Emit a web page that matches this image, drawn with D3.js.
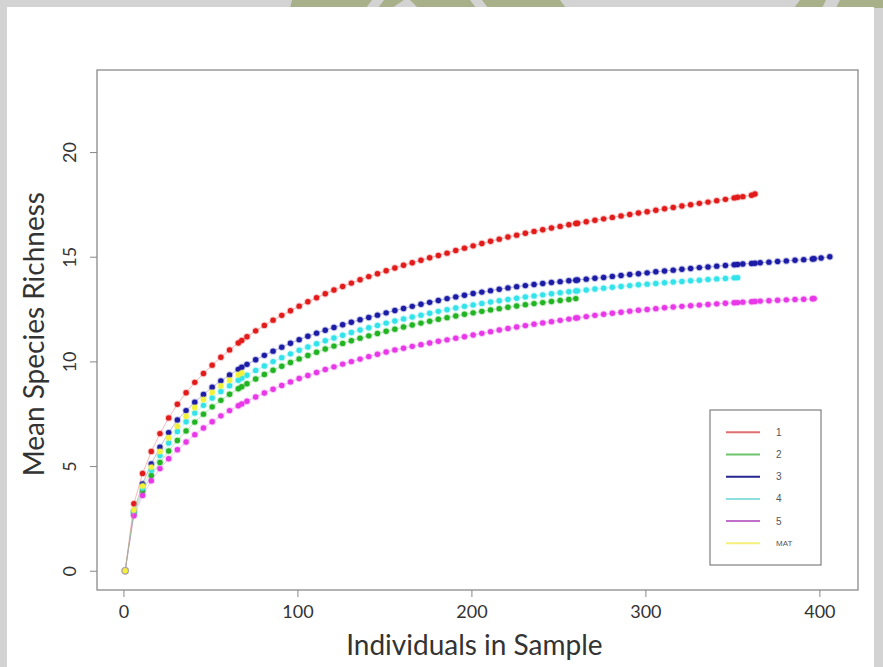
<!DOCTYPE html>
<html>
<head>
<meta charset="utf-8">
<script src="https://cdn.jsdelivr.net/npm/d3@7"></script>
<style>
    body { margin: 0; background: #d3d3d3; }
    .axis text { font-family: Lato, "Open Sans", sans-serif; fill: #333; }
</style>
</head>
<body>
<div id="chart"></div>
<script>
// shared sample sizes (every 5 individuals plus each sample's total)
const sampleSizes = [1, 6, 11, 16, 21, 26, 31, 36, 41, 46, 51, 56, 61, 66, 68, 71, 76, 81, 86, 91,
    96, 101, 106, 111, 116, 121, 126, 131, 136, 141, 146, 151, 156, 161, 166, 171, 176, 181, 186, 191,
    196, 201, 206, 211, 216, 221, 226, 231, 236, 241, 246, 251, 256, 260, 261, 266, 271, 276, 281, 286,
    291, 296, 301, 306, 311, 316, 321, 326, 331, 336, 341, 346, 351, 353, 356, 361, 363, 366, 371, 376,
    381, 386, 391, 396, 397, 401, 406];

const richness1 = [0, 3.2, 4.65, 5.7, 6.55, 7.3, 7.95, 8.5, 9.0, 9.42, 9.82, 10.2, 10.55, 10.88, 11.0,
    11.18, 11.46, 11.72, 11.97, 12.2, 12.42, 12.64, 12.85, 13.04, 13.23, 13.41, 13.58, 13.74, 13.9, 14.05,
    14.19, 14.33, 14.46, 14.59, 14.71, 14.83, 14.95, 15.06, 15.17, 15.3, 15.41, 15.52, 15.63, 15.74, 15.84,
    15.94, 16.03, 16.12, 16.21, 16.29, 16.37, 16.45, 16.53, 16.59, 16.6, 16.67, 16.74, 16.81, 16.88, 16.95,
    17.02, 17.09, 17.15, 17.22, 17.29, 17.35, 17.42, 17.48, 17.55, 17.61, 17.68, 17.74, 17.81, 17.84, 17.87,
    17.94, 18.0];

const richness2 = [0, 2.72, 3.8, 4.55, 5.17, 5.72, 6.22, 6.68, 7.1, 7.48, 7.83, 8.14, 8.43, 8.69, 8.79,
    8.93, 9.16, 9.38, 9.58, 9.77, 9.95, 10.12, 10.28, 10.44, 10.59, 10.73, 10.86, 10.99, 11.11, 11.22,
    11.33, 11.44, 11.54, 11.64, 11.74, 11.83, 11.92, 12.01, 12.09, 12.17, 12.25, 12.32, 12.39, 12.46, 12.52,
    12.59, 12.65, 12.71, 12.76, 12.81, 12.86, 12.91, 12.96, 13.0];

const richness3 = [0, 2.85, 4.15, 5.1, 5.9, 6.6, 7.2, 7.65, 8.05, 8.42, 8.77, 9.07, 9.35, 9.62, 9.72,
    9.86, 10.08, 10.29, 10.49, 10.68, 10.87, 11.04, 11.2, 11.35, 11.49, 11.62, 11.75, 11.87, 11.99, 12.1,
    12.21, 12.32, 12.43, 12.53, 12.63, 12.73, 12.82, 12.91, 13.0, 13.08, 13.16, 13.24, 13.31, 13.38, 13.45,
    13.51, 13.57, 13.62, 13.67, 13.72, 13.77, 13.81, 13.85, 13.88, 13.89, 13.93, 13.97, 14.01, 14.06, 14.1,
    14.15, 14.19, 14.23, 14.28, 14.32, 14.36, 14.4, 14.44, 14.48, 14.51, 14.55, 14.58, 14.62, 14.63, 14.65,
    14.68, 14.69, 14.71, 14.74, 14.77, 14.8, 14.83, 14.86, 14.89, 14.9, 14.94, 15.0];

const richness4 = [0, 2.8, 3.95, 4.8, 5.5, 6.1, 6.65, 7.12, 7.53, 7.9, 8.25, 8.56, 8.84, 9.1, 9.2,
    9.34, 9.57, 9.78, 9.99, 10.18, 10.36, 10.53, 10.69, 10.84, 10.99, 11.12, 11.25, 11.38, 11.5, 11.61,
    11.72, 11.83, 11.93, 12.03, 12.12, 12.21, 12.3, 12.39, 12.47, 12.55, 12.63, 12.7, 12.77, 12.84, 12.9,
    12.96, 13.02, 13.08, 13.13, 13.18, 13.23, 13.28, 13.33, 13.36, 13.37, 13.41, 13.46, 13.5, 13.54, 13.58,
    13.62, 13.66, 13.69, 13.72, 13.76, 13.79, 13.82, 13.85, 13.88, 13.91, 13.94, 13.96, 13.99, 14.0];

const richness5 = [0, 2.63, 3.6, 4.3, 4.88, 5.35, 5.78, 6.15, 6.5, 6.82, 7.12, 7.4, 7.65, 7.88, 7.97,
    8.1, 8.3, 8.49, 8.67, 8.85, 9.02, 9.18, 9.33, 9.47, 9.61, 9.74, 9.87, 9.99, 10.11, 10.23,
    10.34, 10.45, 10.55, 10.63, 10.72, 10.8, 10.88, 10.96, 11.03, 11.11, 11.18, 11.26, 11.34, 11.42, 11.5,
    11.57, 11.64, 11.71, 11.78, 11.84, 11.9, 11.96, 12.02, 12.07, 12.08, 12.14, 12.2, 12.25, 12.3, 12.35,
    12.4, 12.44, 12.48, 12.52, 12.56, 12.6, 12.63, 12.66, 12.69, 12.72, 12.75, 12.78, 12.8, 12.81, 12.83,
    12.85, 12.86, 12.88, 12.9, 12.92, 12.94, 12.96, 12.97, 12.99, 13.0];

const richnessMAT = [0, 2.9, 4.05, 4.95, 5.7, 6.35, 6.9, 7.38, 7.8, 8.18, 8.52, 8.83, 9.1, 9.36, 9.45];

const seriesNames = ["1", "2", "3", "4", "5", "MAT"];
const seriesValues = [richness1, richness2, richness3, richness4, richness5, richnessMAT];
const dotColors = ["#e21b1b", "#22b422", "#1c1ca6", "#33e3ea", "#e838e8", "#f2f23a"];
const legendColors = ["#e07070", "#6cc46c", "#262690", "#8ee0e0", "#c070c8", "#f4f07a"];
const xTicks = [0, 100, 200, 300, 400];
const yTicks = [0, 5, 10, 15, 20];

class RarefactionVis {
    constructor(_parentElement, _data) {
        this.parentElement = _parentElement;
        this.data = _data;
        this.initVis();
    }

    initVis() {
        let vis = this;

        vis.margin = { top: 70, right: 25, bottom: 77, left: 97 };
        vis.width = 883 - vis.margin.left - vis.margin.right;
        vis.height = 667 - vis.margin.top - vis.margin.bottom;

        vis.root = d3.select("#" + vis.parentElement)
            .append("svg")
            .attr("width", 883)
            .attr("height", 667)
            .style("display", "block");

        // slide background
        vis.root.append("rect")
            .attr("width", 883).attr("height", 667)
            .attr("fill", "#d3d3d3");
        vis.root.append("g")
            .attr("fill", "#a8b08a")
            .selectAll("path")
            .data([
                "M292,0 L372,0 L366,8 L290,8 Z",
                "M384,0 L404,0 L392,8 L378,8 Z",
                "M410,0 L470,0 L476,8 L418,8 Z",
                "M482,0 L560,0 L566,8 L488,8 Z",
                "M800,0 L826,0 L822,8 L794,8 Z",
                "M840,0 L883,0 L883,8 L836,8 Z"
            ])
            .enter().append("path")
            .attr("d", d => d);
        vis.root.append("rect")
            .attr("x", 7).attr("y", 7)
            .attr("width", 867).attr("height", 662)
            .attr("fill", "#ffffff");

        vis.svg = vis.root.append("g")
            .attr("transform", "translate(" + vis.margin.left + "," + vis.margin.top + ")");

        // Scales (R style 4% padding)
        vis.x = d3.scaleLinear().domain([-15.2, 422.2]).range([0, vis.width]);
        vis.y = d3.scaleLinear().domain([-0.92, 23.92]).range([vis.height, 0]);

        // Axes
        vis.xAxis = d3.axisBottom(vis.x).tickValues(xTicks).tickSize(7).tickPadding(8);
        vis.yAxis = d3.axisLeft(vis.y).tickValues(yTicks).tickSize(7).tickPadding(0);

        vis.xAxisGroup = vis.svg.append("g")
            .attr("class", "axis x-axis")
            .attr("transform", "translate(0," + vis.height + ")")
            .call(vis.xAxis);
        vis.xAxisGroup.select(".domain").remove();
        vis.xAxisGroup.selectAll("line").attr("stroke", "#888");
        vis.xAxisGroup.selectAll("text").style("font-size", "18px");

        vis.yAxisGroup = vis.svg.append("g")
            .attr("class", "axis y-axis")
            .call(vis.yAxis);
        vis.yAxisGroup.select(".domain").remove();
        vis.yAxisGroup.selectAll("line").attr("stroke", "#888");
        vis.yAxisGroup.selectAll("text")
            .style("font-size", "18px")
            .attr("text-anchor", "middle")
            .attr("dy", 0)
            .attr("x", 0)
            .attr("transform", "translate(-27,0) rotate(-90)")
            .attr("y", 6);

        // plot box
        vis.svg.append("rect")
            .attr("width", vis.width)
            .attr("height", vis.height)
            .attr("fill", "none")
            .attr("stroke", "#8a8a8a")
            .attr("stroke-width", 1.3);

        // axis titles
        vis.svg.append("text")
            .attr("class", "x-axis-label")
            .attr("x", vis.x(200) + 3)
            .attr("y", vis.height + 65)
            .attr("text-anchor", "middle")
            .attr("font-family", "Lato, 'Open Sans', sans-serif")
            .attr("font-size", "28px")
            .attr("fill", "#333")
            .text("Individuals in Sample");

        vis.svg.append("text")
            .attr("class", "y-axis-label")
            .attr("transform", "rotate(-90)")
            .attr("x", -(vis.y(11.3)))
            .attr("y", -vis.margin.left + 44)
            .attr("text-anchor", "middle")
            .attr("font-family", "Lato, 'Open Sans', sans-serif")
            .attr("font-size", "28px")
            .attr("fill", "#333")
            .text("Mean Species Richness");

        vis.series = vis.svg.append("g").attr("class", "series");
        vis.legend = vis.svg.append("g").attr("class", "legend");

        vis.wrangleData();
    }

    wrangleData() {
        let vis = this;

        vis.displayData = vis.data.names.map((name, i) => ({
            name: name,
            color: vis.data.colors[i],
            points: vis.data.values[i].map((v, j) => ({ n: vis.data.sizes[j], s: v }))
        }));

        vis.updateVis();
    }

    updateVis() {
        let vis = this;

        let line = d3.line()
            .x(d => vis.x(d.n))
            .y(d => vis.y(d.s));

        let groups = vis.series.selectAll("g")
            .data(vis.displayData)
            .enter().append("g");

        groups.append("path")
            .attr("d", d => line(d.points))
            .attr("fill", "none")
            .attr("stroke", d => d.color)
            .attr("stroke-width", 1)
            .attr("stroke-opacity", 0.3);

        groups.selectAll("circle")
            .data(d => d.points.map(p => ({ ...p, color: d.color })))
            .enter().append("circle")
            .attr("cx", d => vis.x(d.n))
            .attr("cy", d => vis.y(d.s))
            .attr("r", 2.7)
            .attr("fill", d => d.color)
            .attr("stroke", d => d.color)
            .attr("stroke-opacity", 0.25)
            .attr("stroke-width", 2);

        // legend
        let lx = 613, ly = 340;
        vis.legend.append("rect")
            .attr("x", lx).attr("y", ly)
            .attr("width", 111).attr("height", 155)
            .attr("fill", "#fff")
            .attr("stroke", "#666")
            .attr("stroke-width", 1);

        let rows = vis.legend.selectAll(".row")
            .data(vis.data.names)
            .enter().append("g")
            .attr("class", "row")
            .attr("transform", (d, i) => "translate(" + lx + "," + (ly + 22.3 + i * 22.2) + ")");

        rows.append("line")
            .attr("x1", 16).attr("x2", 50)
            .attr("stroke", (d, i) => legendColors[i])
            .attr("stroke-width", 2);

        rows.append("text")
            .attr("x", 66)
            .attr("dy", "0.35em")
            .attr("font-family", "'Liberation Sans', Arial, sans-serif")
            .attr("font-size", d => d.length > 1 ? "8px" : "10px")
            .attr("fill", "#555")
            .text(d => d);
    }
}

new RarefactionVis("chart", {
    sizes: sampleSizes,
    names: seriesNames,
    values: seriesValues,
    colors: dotColors
});
</script>
</body>
</html>
